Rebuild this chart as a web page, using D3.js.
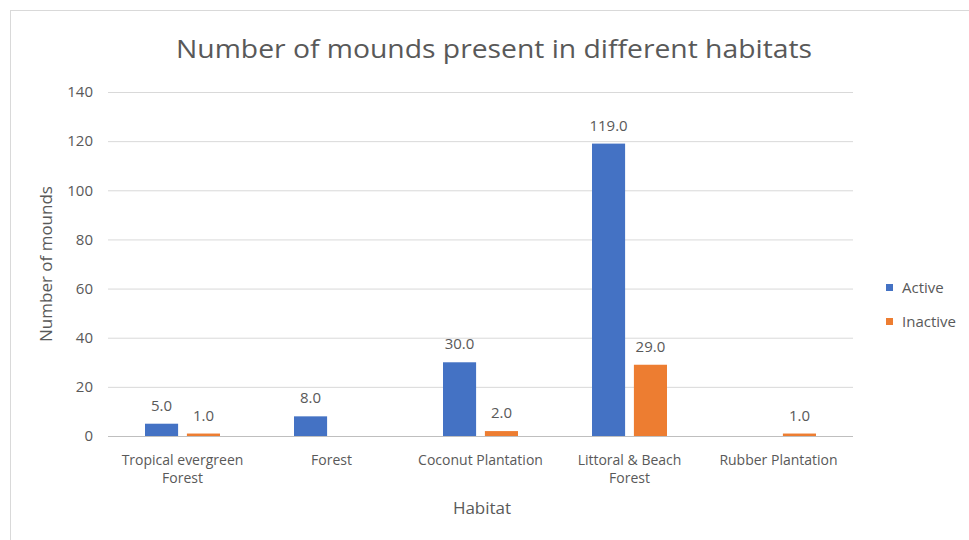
<!DOCTYPE html>
<html>
<head>
<meta charset="utf-8">
<script src="https://cdn.jsdelivr.net/npm/d3@7"></script>
<style>
  body { margin: 0; background: #fff; }
  text { font-family: "Open Sans", "Noto Sans", sans-serif; fill: #595959; }
</style>
</head>
<body>
<script>
// data
const habitats = [["Tropical evergreen", "Forest"], ["Forest"], ["Coconut Plantation"], ["Littoral & Beach", "Forest"], ["Rubber Plantation"]];
const seriesNames = ["Active", "Inactive"];
const active = [5, 8, 30, 119, null];
const inactive = [1, null, 2, 29, 1];
const yTicks = [0, 20, 40, 60, 80, 100, 120, 140];
const colors = ["#4472C4", "#ED7D31"];

const W = 969, H = 540;
const margin = { top: 92, right: 116, bottom: 104, left: 108 },
    width = W - margin.left - margin.right,
    height = H - margin.top - margin.bottom;

const svgRoot = d3.select("body").append("svg")
    .attr("width", W)
    .attr("height", H);

// chart border
svgRoot.append("rect")
    .attr("x", 10.5).attr("y", 10.5)
    .attr("width", W + 10).attr("height", H + 10)
    .attr("fill", "none")
    .attr("stroke", "#d9d9d9");

svgRoot.append("text")
    .attr("x", 494).attr("y", 58)
    .attr("text-anchor", "middle")
    .attr("textLength", 636)
    .attr("lengthAdjust", "spacingAndGlyphs")
    .style("font-size", "26px")
    .text("Number of mounds present in different habitats");

const svg = svgRoot.append("g")
    .attr("transform", "translate(" + margin.left + "," + margin.top + ")");

const keys = habitats.map((d, i) => i);
const xScale = d3.scaleBand().domain(keys).range([0, width]);
const xInner = d3.scaleBand().domain(seriesNames).range([0, 75]).paddingInner(0.21);
const yScale = d3.scaleLinear().domain([0, 140]).range([height, 0]);

// gridlines
svg.selectAll(".grid")
    .data(yTicks)
    .enter().append("line")
    .attr("x1", 0).attr("x2", width)
    .attr("y1", d => yScale(d) + 0.5).attr("y2", d => yScale(d) + 0.5)
    .attr("stroke", "#d9d9d9");

// y axis labels
const yAxis = d3.axisLeft(yScale).tickValues(yTicks).tickSize(0).tickPadding(15);
const yg = svg.append("g").call(yAxis);
yg.select(".domain").remove();
yg.selectAll("text").style("font-size", "15px").style("fill", "#595959").style("font-family", "Open Sans");

// bars
const rows = [];
keys.forEach(i => {
    [active[i], inactive[i]].forEach((v, s) => {
        if (v !== null) rows.push({ cat: i, series: seriesNames[s], value: v, color: colors[s] });
    });
});

const groupOffset = (xScale.bandwidth() - 75) / 2;

svg.selectAll(".bar")
    .data(rows)
    .enter().append("rect")
    .attr("x", d => xScale(d.cat) + groupOffset + xInner(d.series))
    .attr("y", d => yScale(d.value))
    .attr("width", xInner.bandwidth())
    .attr("height", d => height - yScale(d.value))
    .attr("fill", d => d.color);

svg.selectAll(".lbl")
    .data(rows)
    .enter().append("text")
    .attr("x", d => xScale(d.cat) + groupOffset + xInner(d.series) + xInner.bandwidth() / 2)
    .attr("y", d => yScale(d.value) - 13)
    .attr("text-anchor", "middle")
    .style("font-size", "15px")
    .text(d => d.value.toFixed(1));

// baseline
svg.append("line")
    .attr("x1", 0).attr("x2", width)
    .attr("y1", height + 0.5).attr("y2", height + 0.5)
    .attr("stroke", "#bfbfbf");

// category labels
const cat = svg.selectAll(".cat")
    .data(keys)
    .enter().append("text")
    .attr("x", d => xScale(d) + xScale.bandwidth() / 2)
    .attr("y", height + 29)
    .attr("text-anchor", "middle")
    .style("font-size", "14px");
cat.selectAll("tspan")
    .data(d => habitats[d])
    .enter().append("tspan")
    .attr("x", function () { return d3.select(this.parentNode).attr("x"); })
    .attr("dy", (d, i) => i === 0 ? 0 : 18)
    .text(d => d);

// axis titles
svgRoot.append("text")
    .attr("x", 482).attr("y", 514)
    .attr("text-anchor", "middle")
    .style("font-size", "17px")
    .text("Habitat");

svgRoot.append("text")
    .attr("transform", "translate(52," + (margin.top + height / 2) + ") rotate(-90)")
    .attr("text-anchor", "middle")
    .style("font-size", "17px")
    .text("Number of mounds");

// legend
const legend = svgRoot.selectAll(".legend")
    .data(seriesNames)
    .enter().append("g")
    .attr("transform", (d, i) => "translate(886," + (284 + i * 34) + ")");
legend.append("rect")
    .attr("width", 7).attr("height", 7)
    .attr("fill", (d, i) => colors[i]);
legend.append("text")
    .attr("x", 16).attr("y", 9)
    .style("font-size", "15px")
    .text(d => d);
</script>
</body>
</html>
